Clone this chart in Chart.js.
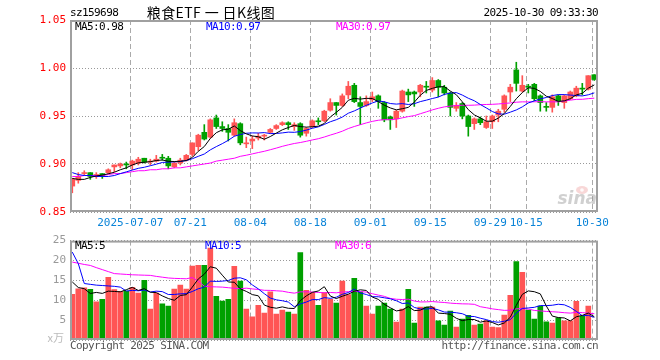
<!DOCTYPE html>
<html><head><meta charset="utf-8">
<script src="https://cdn.jsdelivr.net/npm/chart.js@4.4.1/dist/chart.umd.min.js"></script>
<style>
html,body{margin:0;padding:0;background:#fff;}
#wrap{position:relative;width:660px;height:360px;overflow:hidden;background:#fff;}
canvas{position:absolute;left:0;}
</style></head><body>
<div id="wrap">
<canvas id="kc" width="660" height="230" style="top:0;width:660px;height:230px"></canvas>
<canvas id="vc" width="660" height="130" style="top:230px;width:660px;height:130px"></canvas>
</div>
<script>
// ---------------- data ----------------
const dates = ['2025-06-23','2025-06-24','2025-06-25','2025-06-26','2025-06-27','2025-06-30',
'2025-07-01','2025-07-02','2025-07-03','2025-07-04','2025-07-07','2025-07-08','2025-07-09','2025-07-10','2025-07-11','2025-07-14','2025-07-15','2025-07-16','2025-07-17','2025-07-18','2025-07-21','2025-07-22','2025-07-23','2025-07-24','2025-07-25','2025-07-28','2025-07-29','2025-07-30','2025-07-31',
'2025-08-01','2025-08-04','2025-08-05','2025-08-06','2025-08-07','2025-08-08','2025-08-11','2025-08-12','2025-08-13','2025-08-14','2025-08-15','2025-08-18','2025-08-19','2025-08-20','2025-08-21','2025-08-22','2025-08-25','2025-08-26','2025-08-27','2025-08-28','2025-08-29',
'2025-09-01','2025-09-02','2025-09-03','2025-09-04','2025-09-05','2025-09-08','2025-09-09','2025-09-10','2025-09-11','2025-09-12','2025-09-15','2025-09-16','2025-09-17','2025-09-18','2025-09-19','2025-09-22','2025-09-23','2025-09-24','2025-09-25','2025-09-26','2025-09-29','2025-09-30',
'2025-10-09','2025-10-10','2025-10-13','2025-10-14','2025-10-15','2025-10-16','2025-10-17','2025-10-20','2025-10-21','2025-10-22','2025-10-23','2025-10-24','2025-10-27','2025-10-28','2025-10-29','2025-10-30'];

const open = [0.877,0.883,0.890,0.891,0.888,0.890,0.891,0.897,0.898,0.900,
0.899,0.901,0.906,0.902,0.903,0.907,0.906,0.897,0.901,0.904,
0.910,0.918,0.933,0.928,0.948,0.939,0.937,0.930,0.942,0.921,
0.924,0.927,0.929,0.933,0.937,0.941,0.943,0.939,0.942,0.932,
0.939,0.945,0.945,0.956,0.964,0.961,0.972,0.982,0.964,0.961,
0.967,0.971,0.964,0.949,0.947,0.955,0.975,0.975,0.975,0.981,
0.977,0.987,0.980,0.974,0.958,0.963,0.950,0.942,0.947,0.938,
0.944,0.951,0.957,0.975,0.998,0.976,0.981,0.983,0.971,0.960,
0.959,0.971,0.964,0.968,0.971,0.979,0.978,0.993];

const high = [0.885,0.891,0.893,0.891,0.891,0.890,0.895,0.899,0.901,0.902,
0.904,0.907,0.906,0.905,0.909,0.910,0.908,0.902,0.906,0.910,
0.922,0.931,0.941,0.947,0.951,0.944,0.941,0.947,0.943,0.928,
0.929,0.932,0.931,0.937,0.941,0.944,0.944,0.943,0.943,0.938,
0.946,0.948,0.956,0.968,0.964,0.973,0.986,0.984,0.970,0.971,
0.975,0.972,0.965,0.950,0.956,0.977,0.978,0.976,0.983,0.986,
0.990,0.988,0.982,0.975,0.964,0.964,0.951,0.948,0.949,0.950,
0.951,0.957,0.972,0.983,1.006,0.992,0.983,0.984,0.972,0.964,
0.972,0.972,0.972,0.976,0.981,0.984,0.992,0.993];

const low = [0.870,0.880,0.888,0.884,0.885,0.885,0.890,0.892,0.896,0.895,
0.894,0.899,0.901,0.899,0.902,0.904,0.895,0.896,0.899,0.903,
0.908,0.914,0.925,0.927,0.937,0.934,0.924,0.929,0.920,0.917,
0.916,0.925,0.925,0.932,0.936,0.940,0.936,0.935,0.928,0.929,
0.938,0.941,0.944,0.955,0.951,0.960,0.968,0.964,0.941,0.960,
0.965,0.958,0.944,0.936,0.938,0.954,0.965,0.960,0.970,0.974,
0.975,0.970,0.972,0.950,0.955,0.947,0.929,0.936,0.941,0.937,
0.937,0.944,0.954,0.965,0.976,0.975,0.974,0.966,0.955,0.955,
0.954,0.961,0.958,0.967,0.970,0.972,0.977,0.987];

const close = [0.884,0.887,0.891,0.887,0.889,0.888,0.894,0.899,0.900,0.899,
0.903,0.905,0.902,0.903,0.905,0.906,0.898,0.901,0.904,0.909,
0.922,0.930,0.926,0.946,0.939,0.937,0.933,0.943,0.922,0.922,
0.926,0.929,0.930,0.936,0.940,0.943,0.941,0.941,0.930,0.937,
0.945,0.944,0.955,0.964,0.961,0.971,0.981,0.965,0.960,0.965,
0.970,0.965,0.946,0.946,0.955,0.976,0.972,0.973,0.982,0.980,
0.987,0.980,0.974,0.959,0.961,0.950,0.939,0.947,0.943,0.944,
0.950,0.955,0.971,0.980,0.984,0.982,0.980,0.968,0.964,0.959,
0.970,0.965,0.971,0.975,0.979,0.978,0.992,0.988];

// volume in 万
const volume = [11.5,12.9,13.1,12.75,9.6,10.25,15.75,12.7,12.25,12.3,
13.25,11.8,15,7.75,11.8,9.1,8.5,12.8,13.8,12.8,
18.6,18.8,18.8,23.1,11,9.8,10.25,18.5,14.8,7.75,
5.8,8.75,6.8,12.1,6.5,7.5,7.0,6.5,22,12.5,
11.9,8.75,11.9,10.25,9.3,14.8,11.4,15.5,12.1,8.5,
6.5,8.5,9.3,7.75,4.5,7.75,12.75,4.25,8.25,8.25,
8.25,4.8,3.75,7.3,3.25,5.25,6.2,3.75,4.0,4.8,
3.25,3.1,6.25,11.25,19.75,17,7.5,5.25,8.5,4.6,
4.25,5.6,4.8,4.8,9.75,6.0,8.5,0.25];

// moving-average values for the days before a full window exists
const ma5Head  = [0.885,0.884,0.884,0.886];
const ma10Head = [0.891,0.889,0.888,0.888,0.887,0.887,0.887,0.888,0.890];
const ma30Head = [0.887,0.887,0.888,0.888,0.888,0.888,0.889,0.890,0.890,0.891,
0.892,0.893,0.893,0.894,0.894,0.895,0.895,0.896,0.896,0.897,
0.898,0.899,0.900,0.901,0.903,0.904,0.905,0.906,0.908];
const vma5Head  = [14.6,13.2,12.9,11.7];
const vma10Head = [22.1,19.2,14.2,14.0,13.8,13.7,13.6,13.5,13.3];
const vma30Head = [19.6,19.3,19.0,18.75,18.2,17.7,17.2,16.7,16.6,16.5,
16.4,16.35,16.3,16.25,16.0,15.8,15.6,15.5,15.45,15.4,
15.7,14.8,13.5,13.4,13.35,13.3,13.15,13.0,12.9];

const tickDates  = ['2025-07-07','2025-07-21','2025-08-04','2025-08-18','2025-09-01','2025-09-15','2025-09-29','2025-10-15','2025-10-30'];
const tickLabels = ['2025-07-07','07-21','08-04','08-18','09-01','09-15','09-29','10-15','10-30'];
const priceTicks = [0.85,0.90,0.95,1.00,1.05];
const volTicks   = [0,5,10,15,20,25];

const priceLegend = ['MA5:0.98','MA10:0.97','MA30:0.97'];
const volLegend   = ['MA5:5','MA10:5','MA30:6'];
const stockCode = 'sz159698';
const titleText = '粮食ETF 一 日K线图';
const stampText = '2025-10-30 09:33:30';

// ---------------- helpers ----------------
const avg = a => a.reduce((s,v)=>s+v,0)/a.length;
const movingAvg = (arr,n,head) => arr.map((v,i)=> i < n-1 ? head[i] : avg(arr.slice(i-n+1,i+1)));
const ma5 = movingAvg(close,5,ma5Head), ma10 = movingAvg(close,10,ma10Head), ma30 = movingAvg(close,30,ma30Head);
const vma5 = movingAvg(volume,5,vma5Head), vma10 = movingAvg(volume,10,vma10Head), vma30 = movingAvg(volume,30,vma30Head);

const RED = '#ff5555', GREEN = '#00a000';
const colors = close.map((c,i)=> c >= open[i] ? RED : GREEN);
const pts = arr => arr.map((y,i)=>({x:i,y}));
const tickIdx = tickDates.map(d => dates.indexOf(d));

const X_MIN = -0.383, X_MAX = 87.617, GRID_SHIFT = 1/3;
const MONO = '11px "DejaVu Sans Mono"';
const LS = '-0.6px';

function drawText(ctx, s, x, y, color, align, font, spacing){
  ctx.save();
  ctx.font = font; ctx.fillStyle = color; ctx.textAlign = align; ctx.textBaseline = 'middle';
  if ('letterSpacing' in ctx) ctx.letterSpacing = spacing || '0px';
  ctx.fillText(s, x, y);
  ctx.restore();
}
function drawFrame(chart){
  const {ctx, chartArea:a} = chart;
  ctx.save(); ctx.strokeStyle = '#a0a0a0'; ctx.lineWidth = 2;
  ctx.strokeRect(a.left+1, a.top+1, a.right-a.left-2, a.bottom-a.top-2);
  ctx.restore();
}
function xAxis(showLabels, h){
  return {
    type:'linear', min:X_MIN, max:X_MAX, offset:false,
    afterBuildTicks: s => { s.ticks = tickIdx.map(i => ({value: i - GRID_SHIFT})); },
    ticks:{display:showLabels, autoSkip:false, maxRotation:0, minRotation:0, color:'#0a84d8',
      font:{family:'DejaVu Sans Mono', size:11}, padding:5, callback:(v,k)=>tickLabels[k]},
    grid:{color:'#aaaaaa', lineWidth:1, drawTicks:false, offset:false},
    border:{display:false, dash:[5,3]},
    afterFit: s => { s.height = h; }
  };
}
const lineDs = (data,color,order) => ({type:'line', data:pts(data), borderColor:color, borderWidth:1,
  pointRadius:0, pointHoverRadius:0, tension:0, fill:false, order});

// ---------------- price chart ----------------
new Chart(document.getElementById('kc'), {
  type:'bar',
  data:{datasets:[
    lineDs(ma5,'#000000',0), lineDs(ma10,'#0000ff',1), lineDs(ma30,'#ff00ff',2),
    {type:'bar', data:dates.map((d,i)=>({x:i,y:[open[i],close[i]]})), backgroundColor:colors,
      barThickness:5, minBarLength:1, grouped:false, borderWidth:0, order:3},
    {type:'bar', data:dates.map((d,i)=>({x:i,y:[low[i],high[i]]})), backgroundColor:colors,
      barThickness:1, minBarLength:1, grouped:false, borderWidth:0, order:4}
  ]},
  options:{
    responsive:false, devicePixelRatio:1, animation:false, events:[],
    layout:{padding:{top:20,right:62,left:0,bottom:0}},
    plugins:{legend:{display:false}, tooltip:{enabled:false}},
    scales:{
      x: xAxis(true, 18),
      y:{type:'linear', min:0.85, max:1.05,
        afterBuildTicks: s => { s.ticks = priceTicks.map(v=>({value:v})); },
        ticks:{color:'#ff0000', font:{family:'DejaVu Sans Mono', size:11}, padding:4, callback:v=>v.toFixed(2)},
        grid:{color:'#999999', drawTicks:false},
        border:{display:false, dash:[1,2]},
        afterFit: s => { s.width = 70; }}
    }
  },
  plugins:[{
    id:'deco',
    beforeDatasetsDraw(chart){
      const ctx = chart.ctx;
      ctx.save();
      ctx.fillStyle = 'rgba(235,140,140,0.35)';
      ctx.beginPath(); ctx.ellipse(582,190,6,4,0,0,Math.PI*2); ctx.fill();
      ctx.fillStyle = 'rgba(255,255,255,0.9)';
      ctx.beginPath(); ctx.arc(582,190,1.8,0,Math.PI*2); ctx.fill();
      ctx.restore();
      drawText(ctx,'sina',597,200,'rgba(150,150,150,0.45)','right','italic bold 17px "DejaVu Sans"');
    },
    afterDraw(chart){
      const ctx = chart.ctx;
      drawFrame(chart);
      drawText(ctx, stockCode, 70, 13, '#000', 'left', MONO, LS);
      drawText(ctx, titleText, 211, 13, '#000', 'center', '14px "Noto Sans CJK SC"', '0.4px');
      drawText(ctx, stampText, 598, 13, '#000', 'right', MONO, LS);
      drawText(ctx, priceLegend[0], 75, 27, '#000000', 'left', MONO, LS);
      drawText(ctx, priceLegend[1], 206, 27, '#0000ff', 'left', MONO, LS);
      drawText(ctx, priceLegend[2], 336, 27, '#ff00ff', 'left', MONO, LS);
    }
  }]
});

// ---------------- volume chart ----------------
new Chart(document.getElementById('vc'), {
  type:'bar',
  data:{datasets:[
    lineDs(vma5,'#000000',0), lineDs(vma10,'#0000ff',1), lineDs(vma30,'#ff00ff',2),
    {type:'bar', data:pts(volume), backgroundColor:colors, barThickness:5, grouped:false, borderWidth:0, order:3}
  ]},
  options:{
    responsive:false, devicePixelRatio:1, animation:false, events:[],
    layout:{padding:{top:10,right:62,left:0,bottom:0}},
    plugins:{legend:{display:false}, tooltip:{enabled:false}},
    scales:{
      x: xAxis(false, 20),
      y:{type:'linear', min:0, max:25,
        afterBuildTicks: s => { s.ticks = volTicks.map(v=>({value:v})); },
        ticks:{color:'#999999', font:{family:'DejaVu Sans Mono', size:11}, padding:4, callback:v=> v===0 ? '' : String(v)},
        grid:{color:'#999999', drawTicks:false},
        border:{display:false, dash:[1,2]},
        afterFit: s => { s.width = 70; }}
    }
  },
  plugins:[{
    id:'deco2',
    afterDraw(chart){
      const ctx = chart.ctx;
      drawFrame(chart);
      drawText(ctx, volLegend[0], 75, 16, '#000000', 'left', MONO, LS);
      drawText(ctx, volLegend[1], 205, 16, '#0000ff', 'left', MONO, LS);
      drawText(ctx, volLegend[2], 335, 16, '#ff00ff', 'left', MONO, LS);
      drawText(ctx, 'x万', 64, 108, '#bbbbbb', 'right', '11px "Noto Sans CJK SC"');
      drawText(ctx, 'Copyright 2025 SINA.COM', 70, 116, '#555555', 'left', MONO, LS);
      drawText(ctx, 'http://finance.sina.com.cn', 598, 116, '#555555', 'right', MONO, LS);
    }
  }]
});
</script>
</body></html>
